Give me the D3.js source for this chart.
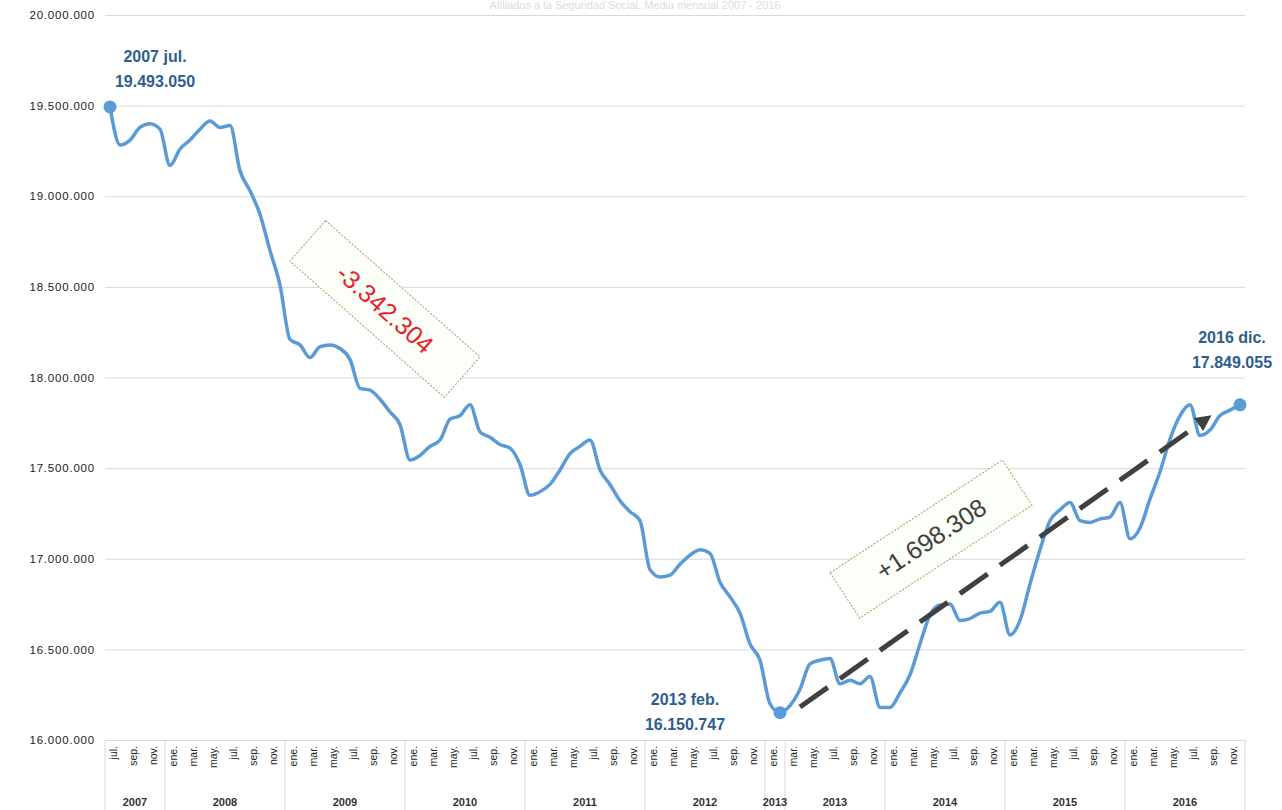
<!DOCTYPE html>
<html>
<head>
<meta charset="utf-8">
<script src="https://cdn.jsdelivr.net/npm/d3@7"></script>
<style>
  body { margin: 0; background: #fff; }
  svg { display: block; }
</style>
</head>
<body>
<div id="chart-area"></div>
<script>
// afiliados, media mensual, jul 2007 - dic 2016
var startYear = 2007, startMonth = 6;
var monthNames = ["ene.", "feb.", "mar.", "abr.", "may.", "jun.", "jul.", "ago.", "sep.", "oct.", "nov.", "dic."];
var yearGroups = [
    { label: "2007", from: "2007-06", to: "2007-11" },
    { label: "2008", from: "2008-00", to: "2008-11" },
    { label: "2009", from: "2009-00", to: "2009-11" },
    { label: "2010", from: "2010-00", to: "2010-11" },
    { label: "2011", from: "2011-00", to: "2011-11" },
    { label: "2012", from: "2012-00", to: "2012-11" },
    { label: "2013", from: "2013-00", to: "2013-01" },
    { label: "2013", from: "2013-02", to: "2013-11" },
    { label: "2014", from: "2014-00", to: "2014-11" },
    { label: "2015", from: "2015-00", to: "2015-11" },
    { label: "2016", from: "2016-00", to: "2016-11" }
];
var values = [
    19493050, 19283000, 19310000, 19380000, 19400000, 19370000,
    19170000, 19260000, 19310000, 19370000, 19415000, 19380000, 19390000, 19140000, 19030000, 18900000, 18700000, 18510000,
    18210000, 18180000, 18110000, 18170000, 18180000, 18160000, 18100000, 17940000, 17930000, 17880000, 17810000, 17740000,
    17545000, 17570000, 17620000, 17655000, 17770000, 17790000, 17850000, 17700000, 17670000, 17630000, 17610000, 17520000,
    17350000, 17370000, 17410000, 17490000, 17580000, 17620000, 17655000, 17490000, 17410000, 17320000, 17260000, 17210000,
    16940000, 16900000, 16910000, 16970000, 17020000, 17050000, 17030000, 16870000, 16790000, 16700000, 16530000, 16440000,
    16200000, 16150747, 16190000, 16280000, 16420000, 16440000, 16450000, 16310000, 16330000, 16310000, 16350000, 16180000,
    16180000, 16260000, 16360000, 16530000, 16690000, 16745000, 16750000, 16660000, 16670000, 16700000, 16710000, 16760000,
    16580000, 16660000, 16860000, 17050000, 17210000, 17270000, 17310000, 17210000, 17200000, 17220000, 17230000, 17310000,
    17110000, 17170000, 17330000, 17480000, 17660000, 17790000, 17850000, 17680000, 17710000, 17790000, 17820000, 17849055
];
var yTicks = [16000000, 16500000, 17000000, 17500000, 18000000, 18500000, 19000000, 19500000, 20000000];
var highlights = [
    { i: 0, line1: "2007 jul.", dx: 45, dy: -45 },
    { i: 67, line1: "2013 feb.", dx: -95, dy: -8 },
    { i: 113, line1: "2016 dic.", dx: -8, dy: -62 }
];
var changes = [
    { text: "-3.342.304", at: 27.5, value: 18378000, angle: 41.4, color: "#e3222b" },
    { text: "+1.698.308", at: 82.1, value: 17109000, angle: -33.2, color: "#404040" }
];
var trend = { from: 69, fromValue: 16182000, to: 109.5, toValue: 17766000 };

var keys = values.map(function (v, i) {
    var m = startMonth + i;
    return (startYear + Math.floor(m / 12)) + "-" + String(m % 12).padStart(2, "0");
});

var loc = d3.formatLocale({ decimal: ",", thousands: ".", grouping: [3], currency: ["", "€"] });
var fmt = loc.format(",d");

var W = 1282, H = 810;
var svg = d3.select("#chart-area").append("svg").attr("width", W).attr("height", H);
var narrow = "'Liberation Sans Narrow', 'Liberation Sans', Arial, sans-serif";
var sans = "'Liberation Sans', Arial, sans-serif";

var x = d3.scaleBand().domain(keys).range([105, 1245]);
var y = d3.scaleLinear().domain([16000000, 20000000]).range([740, 15]);
var cx = function (i) { return x(keys[0]) + x.bandwidth() * (i + 0.5); };

// title (faint, at the very top)
svg.append("text").attr("x", 635).attr("y", 9).attr("text-anchor", "middle")
    .attr("font-family", narrow).attr("font-size", 11).attr("fill", "#dcdcdc")
    .text("Afiliados a la Seguridad Social. Media mensual 2007 - 2016");

// y axis + grid
var yAxis = svg.append("g").attr("transform", "translate(105,0)")
    .call(d3.axisLeft(y).tickValues(yTicks).tickFormat(fmt).tickSize(-1140).tickPadding(10));
yAxis.select(".domain").remove();
yAxis.selectAll("line").attr("stroke", "#d9d9d9");
yAxis.selectAll("text").attr("font-family", sans).attr("font-size", 11.5)
    .attr("letter-spacing", 0.8).attr("fill", "#222");

// x axis: months every 2
var xAxis = svg.append("g").attr("transform", "translate(0,740)")
    .call(d3.axisBottom(x).tickValues(keys.filter(function (k, i) { return i % 2 == 0; }))
        .tickSize(0).tickFormat(function (k) { return monthNames[+k.split("-")[1]]; }));
xAxis.select(".domain").attr("stroke", "#d9d9d9");
xAxis.selectAll("text")
    .attr("font-family", narrow).attr("font-size", 10.5).attr("fill", "#222")
    .attr("text-anchor", "end").attr("dy", "0.35em")
    .attr("transform", "translate(0,6) rotate(-90)");

// year groups
yearGroups.forEach(function (g) {
    var x0 = x(g.from), x1 = x(g.to) + x.bandwidth();
    svg.append("line").attr("x1", x1).attr("x2", x1).attr("y1", 740).attr("y2", 810)
        .attr("stroke", "#d9d9d9");
    svg.append("text").attr("x", (x0 + x1) / 2).attr("y", 806).attr("text-anchor", "middle")
        .attr("font-family", narrow).attr("font-size", 11).attr("font-weight", "bold").attr("fill", "#333")
        .text(g.label);
});
svg.append("line").attr("x1", 105).attr("x2", 105).attr("y1", 740).attr("y2", 810).attr("stroke", "#d9d9d9");

// series line
var line = d3.line().x(function (d, i) { return cx(i); }).y(function (d) { return y(d); }).curve(d3.curveMonotoneX);
svg.append("path").datum(values).attr("d", line)
    .attr("fill", "none").attr("stroke", "#5b9bd5").attr("stroke-width", 3.5).attr("stroke-linejoin", "round");

// trend arrow
svg.append("defs").append("marker").attr("id", "arr").attr("viewBox", "0 0 10 10")
    .attr("refX", 5).attr("refY", 5).attr("markerWidth", 3.2).attr("markerHeight", 3.2).attr("orient", "auto")
    .append("path").attr("d", "M0,0 L10,5 L0,10 z").attr("fill", "#404040");
svg.append("line")
    .attr("x1", cx(trend.from)).attr("y1", y(trend.fromValue))
    .attr("x2", cx(trend.to)).attr("y2", y(trend.toValue))
    .attr("stroke", "#404040").attr("stroke-width", 5).attr("stroke-dasharray", "34,15")
    .attr("marker-end", "url(#arr)");

// highlighted points
highlights.forEach(function (h) {
    var px = cx(h.i), py = y(values[h.i]);
    svg.append("circle").attr("cx", px).attr("cy", py).attr("r", 6.5).attr("fill", "#5b9bd5");
    var t = svg.append("text").attr("text-anchor", "middle")
        .attr("font-family", narrow).attr("font-size", 16).attr("font-weight", "bold").attr("fill", "#2e5e8e");
    t.append("tspan").attr("x", px + h.dx).attr("y", py + h.dy).text(h.line1);
    t.append("tspan").attr("x", px + h.dx).attr("y", py + h.dy + 25).text(fmt(values[h.i]));
});

// change boxes
changes.forEach(function (c) {
    var g = svg.append("g").attr("transform", "translate(" + cx(c.at) + "," + y(c.value) + ") rotate(" + c.angle + ")");
    g.append("rect").attr("x", -103).attr("y", -27).attr("width", 206).attr("height", 54)
        .attr("fill", "#fcfff7").attr("stroke", "#93a86a").attr("stroke-dasharray", "2,1.5");
    g.append("text").attr("text-anchor", "middle").attr("dy", "0.35em")
        .attr("font-family", sans).attr("font-size", 25).attr("fill", c.color)
        .text(c.text);
});
</script>
</body>
</html>
